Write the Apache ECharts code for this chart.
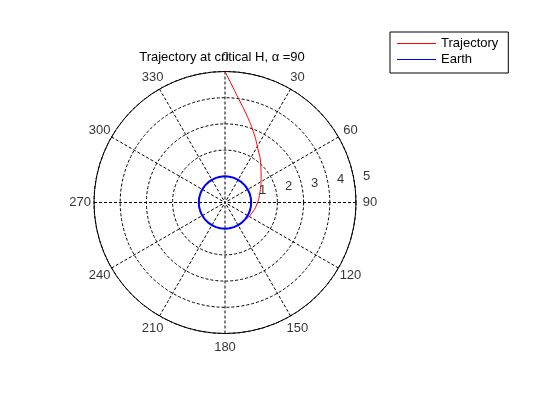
<!DOCTYPE html>
<html>
<head>
<meta charset="utf-8">
<script src="https://cdn.jsdelivr.net/npm/echarts@6/dist/echarts.min.js"></script>
<style>
  html, body { margin: 0; padding: 0; background: #fff; }
  #chart { width: 560px; height: 420px; }
</style>
</head>
<body>
<div id="chart"></div>
<script>
// trajectory (r, angle in degrees clockwise from north)
var trajR     = [1.00, 1.04, 1.10, 1.21, 1.40, 1.66, 1.98, 2.42, 2.91, 3.44, 4.01, 4.49, 5.00]
var trajAngle = [128,  125,  112,  94.5, 72.8, 56.1, 43.6, 31.1, 21.8, 13.9, 7.3,  3.3,  0]

// earth: unit circle
var earthAngle = [0, 10, 20, 30, 40, 50, 60, 70, 80, 90, 100, 110, 120, 130, 140, 150, 160, 170, 180,
                  190, 200, 210, 220, 230, 240, 250, 260, 270, 280, 290, 300, 310, 320, 330, 340, 350, 360]
var earthR = [1, 1, 1, 1, 1, 1, 1, 1, 1, 1, 1, 1, 1, 1, 1, 1, 1, 1, 1,
              1, 1, 1, 1, 1, 1, 1, 1, 1, 1, 1, 1, 1, 1, 1, 1, 1, 1]

// radial tick labels (matlab puts them a bit above the 90 spoke)
var rTicks = [1, 2, 3, 4, 5]
var rTickAngle = 82.3

// angle tick labels, centred just outside the rim like matlab does
var angleTicks = [0, 30, 60, 90, 120, 150, 180, 210, 240, 270, 300, 330]
var angleLabelR = 5.53

var FONT = 'Liberation Sans'

function pairs(rs, as){
    return rs.map(function(r, i){ return [r, as[i]] })
}

// scatter used only to carry text labels
function labelSeries(name, data, offset, fmt){
    return {
        name: name,
        type: 'scatter',
        coordinateSystem: 'polar',
        data: data,
        symbolSize: 0,
        silent: true,
        clip: false,
        label: {
            show: true,
            position: 'inside',
            offset: offset,
            fontFamily: FONT,
            fontSize: 13,
            color: '#000',
            formatter: fmt
        },
        z: 5
    }
}

var chart = echarts.init(document.getElementById('chart'))

var option = {
    animation: false,
    backgroundColor: '#fff',
    title: {
        text: 'Trajectory at critical H, \u03b1 =90',
        left: 217,
        top: 46,
        textAlign: 'center',
        textStyle: { fontFamily: FONT, fontSize: 13, fontWeight: 'normal', color: '#000' }
    },
    legend: {
        data: ['Trajectory', 'Earth'],
        orient: 'vertical',
        left: 390,
        top: 32,
        padding: [4, 10, 6, 7],
        icon: 'rect',
        itemWidth: 39,
        itemHeight: 1,
        itemGap: 1,
        borderColor: '#000',
        borderWidth: 1,
        borderRadius: 0,
        backgroundColor: '#fff',
        textStyle: { fontFamily: FONT, fontSize: 13, color: '#000', lineHeight: 15 }
    },
    polar: {
        center: [225, 202.5],
        radius: 131
    },
    angleAxis: {
        type: 'value',
        min: 0,
        max: 360,
        interval: 30,
        startAngle: 90,
        clockwise: true,
        axisLine: { lineStyle: { color: '#000', width: 1 } },
        axisTick: { show: false },
        axisLabel: { show: false },
        splitLine: { show: true, lineStyle: { color: '#000', width: 1, type: [3, 2] } }
    },
    radiusAxis: {
        type: 'value',
        min: 0,
        max: 5,
        interval: 1,
        axisLine: { show: false },
        axisTick: { show: false },
        axisLabel: { show: false },
        splitLine: { show: true, lineStyle: { color: '#000', width: 1, type: [3, 2] } }
    },
    series: [
        {
            name: 'Trajectory',
            type: 'line',
            coordinateSystem: 'polar',
            data: pairs(trajR, trajAngle),
            smooth: true,
            symbol: 'none',
            lineStyle: { color: '#ff0000', width: 1 },
            itemStyle: { color: '#ff0000' },
            z: 3
        },
        {
            name: 'Earth',
            type: 'line',
            coordinateSystem: 'polar',
            data: pairs(earthR, earthAngle),
            symbol: 'none',
            lineStyle: { color: '#0000ff', width: 2 },
            itemStyle: { color: '#0000ff' },
            z: 4
        },
        labelSeries('rlabels', rTicks.map(function(r){ return [r, rTickAngle] }), [11.7, -9],
            function(p){ return String(p.value[0]) }),
        labelSeries('alabels', angleTicks.map(function(a){ return [angleLabelR, a] }), [0, 0],
            function(p){ return String(p.value[1]) })
    ]
}

chart.setOption(option)
</script>
</body>
</html>
